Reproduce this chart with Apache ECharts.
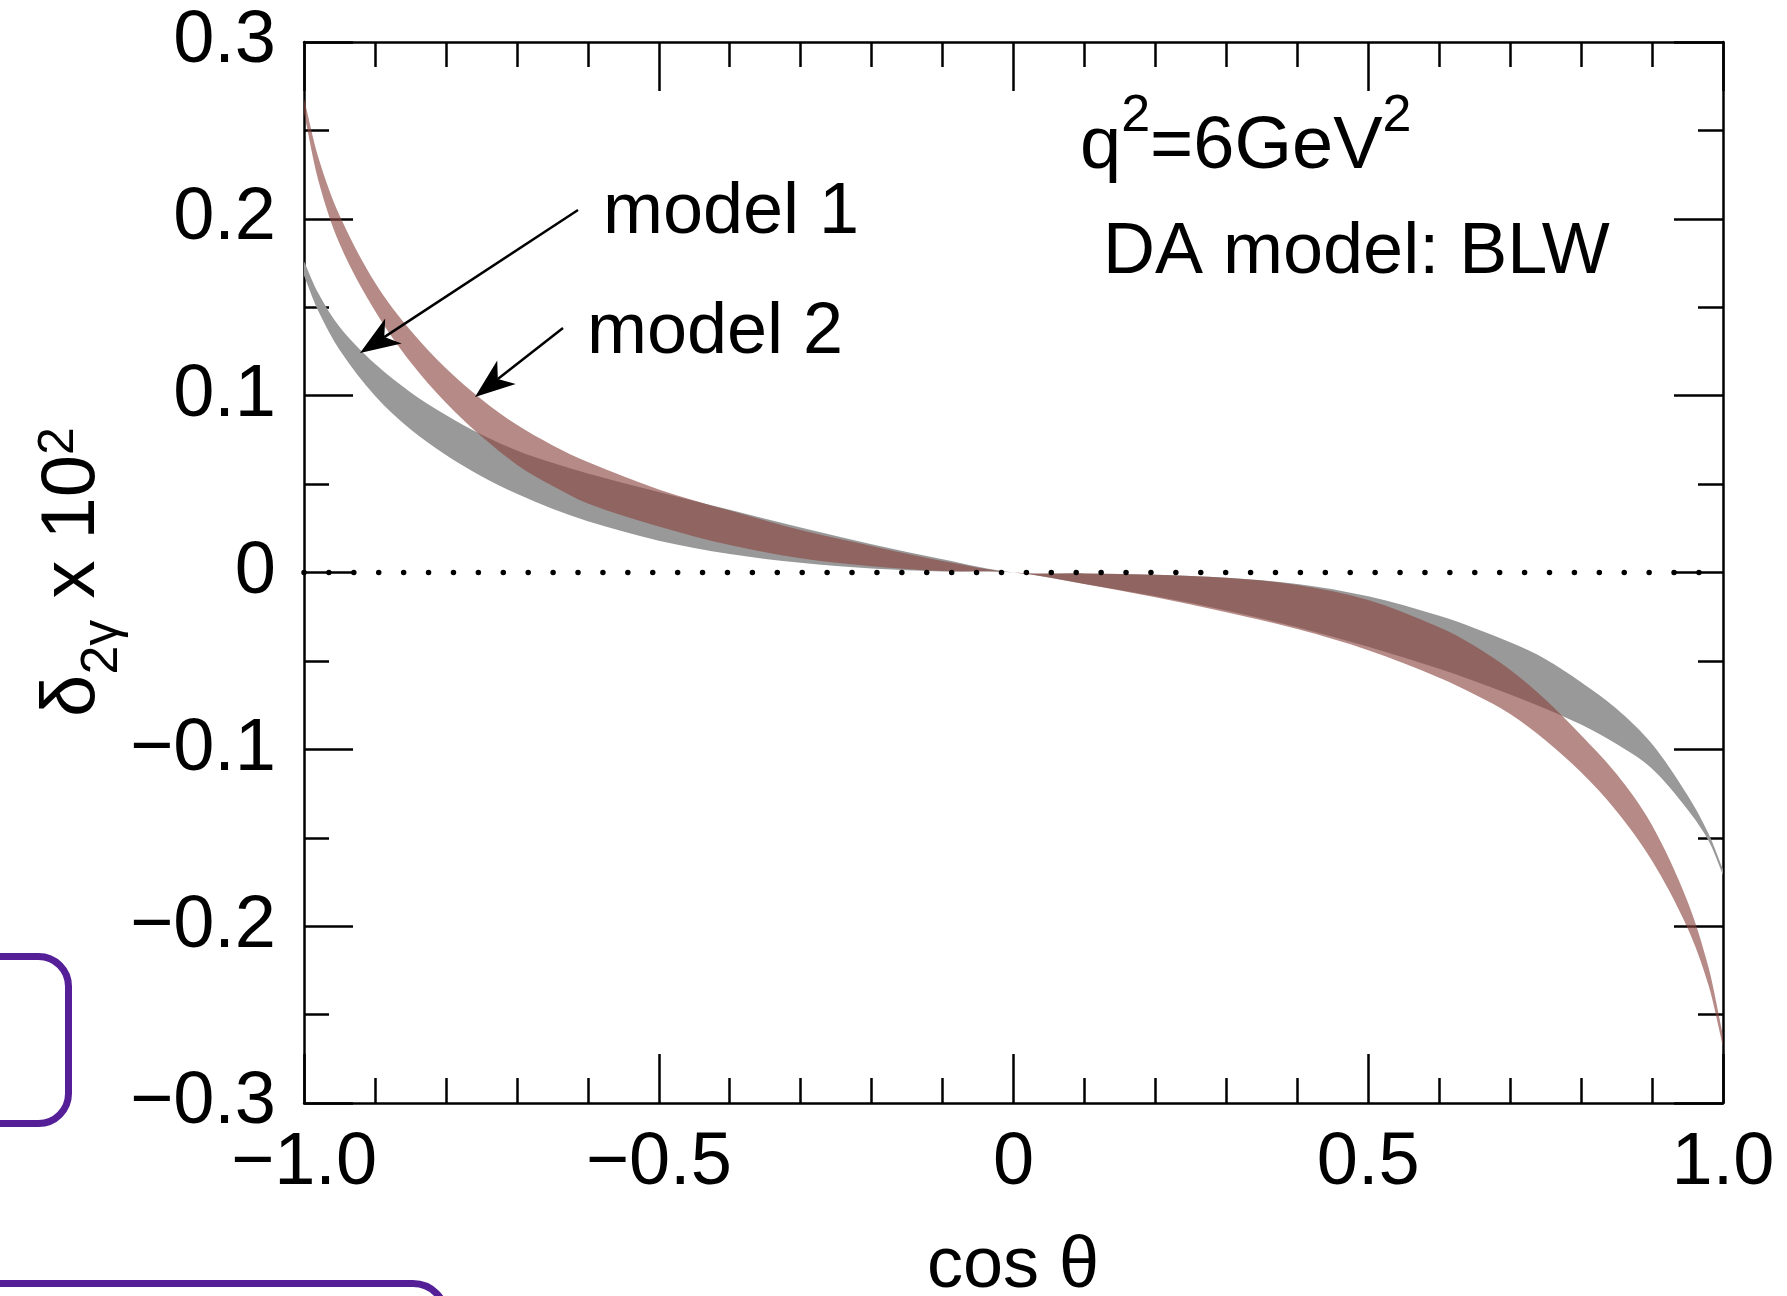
<!DOCTYPE html>
<html>
<head>
<meta charset="utf-8">
<style>
html,body{margin:0;padding:0;background:#ffffff;}
#chart{width:1787px;height:1296px;}
</style>
<script src="https://cdn.jsdelivr.net/npm/echarts@6/dist/echarts.min.js"></script>
</head>
<body>
<div id="chart"></div>
<script>
// ---------------- data ----------------
const cosTheta = [-1, -0.98, -0.95, -0.9, -0.85, -0.8, -0.75, -0.7, -0.65, -0.6, -0.5, -0.4, -0.3, -0.2, -0.1, 0,
                  0.1, 0.2, 0.3, 0.4, 0.5, 0.6, 0.65, 0.7, 0.75, 0.8, 0.85, 0.9, 0.95, 0.98, 1];

// model 1 (grey band)
const model1Upper = [0.176, 0.158, 0.139, 0.118, 0.102, 0.089, 0.078, 0.069, 0.062, 0.056, 0.0455, 0.0355, 0.0255, 0.016, 0.0075, 0,
                     -0.0005, -0.0013, -0.003, -0.0065, -0.0135, -0.0245, -0.0315, -0.0395, -0.049, -0.062, -0.077, -0.097, -0.126, -0.148, -0.168];
const model1Lower = [0.168, 0.148, 0.126, 0.100, 0.081, 0.0665, 0.0545, 0.0445, 0.036, 0.029, 0.018, 0.0105, 0.0055, 0.0023, 0.0006, 0,
                     -0.0065, -0.0135, -0.0215, -0.031, -0.042, -0.0545, -0.0615, -0.069, -0.077, -0.086, -0.097, -0.111, -0.134, -0.152, -0.171];

// model 2 (rosy band)
const model2Upper = [0.268, 0.235, 0.202, 0.164, 0.137, 0.1155, 0.098, 0.0835, 0.072, 0.0625, 0.047, 0.035, 0.024, 0.015, 0.0065, 0,
                     -0.0005, -0.0013, -0.003, -0.007, -0.0155, -0.031, -0.0415, -0.055, -0.072, -0.092, -0.114, -0.143, -0.186, -0.224, -0.262];
const model2Lower = [0.260, 0.222, 0.186, 0.148, 0.119, 0.096, 0.077, 0.061, 0.049, 0.039, 0.026, 0.0155, 0.008, 0.0035, 0.0008, 0,
                     -0.0065, -0.014, -0.0225, -0.032, -0.044, -0.0595, -0.069, -0.080, -0.095, -0.113, -0.135, -0.163, -0.201, -0.234, -0.268];

// zero reference line
const zeroLineX = [-1, 1];
const zeroLineY = [0, 0];

// tick labels
const xTickLabels = ['\u22121.0', '\u22120.5', '0', '0.5', '1.0'];
const yTickLabels = ['\u22120.3', '\u22120.2', '\u22120.1', '0', '0.1', '0.2', '0.3'];

// ---------------- styling ----------------
const FONT = "'Liberation Sans', Arial, Helvetica, sans-serif";
const GREY = '#999999';
const ROSE = 'rgba(140,69,63,0.63)';

function hermite(pts) {
  const n = pts.length;
  const m = [];
  for (let i = 0; i < n; i++) {
    const a = pts[Math.max(0, i - 1)], b = pts[Math.min(n - 1, i + 1)];
    m[i] = (b[1] - a[1]) / (b[0] - a[0]);
  }
  let s = '';
  for (let i = 0; i < n - 1; i++) {
    const p = pts[i], q = pts[i + 1], dx = (q[0] - p[0]) / 3;
    s += ' C' + (p[0] + dx) + ',' + (p[1] + m[i] * dx) + ' ' + (q[0] - dx) + ',' + (q[1] - m[i + 1] * dx) + ' ' + q[0] + ',' + q[1];
  }
  return s;
}

function bandRenderer(upper, lower, fill) {
  return function (params, api) {
    if (params.dataIndex !== 0) return null;
    const top = cosTheta.map((x, i) => api.coord([x, upper[i]]));
    const bot = cosTheta.map((x, i) => api.coord([x, lower[i]])).reverse();
    const d = 'M' + top[0][0] + ',' + top[0][1] + hermite(top) +
              ' L' + bot[0][0] + ',' + bot[0][1] + hermite(bot) + ' Z';
    return { type: 'path', shape: { pathData: d }, style: { fill: fill, stroke: null } };
  };
}

function bandData(upper, lower) {
  return cosTheta.map((x, i) => [x, lower[i], upper[i]]);
}

function axisBase(extra) {
  return Object.assign({
    type: 'value',
    axisLine: { show: true, onZero: false, lineStyle: { color: '#000', width: 2.5 } },
    axisTick: { show: true, inside: true, length: 49, lineStyle: { color: '#000', width: 2.5 } },
    splitLine: { show: false },
    minorSplitLine: { show: false }
  }, extra);
}

// text runs with sub/superscripts (positions measured, baseline based)
const mctx = document.createElement('canvas').getContext('2d');
function tw(str, size) { mctx.font = size + 'px ' + FONT; return mctx.measureText(str).width; }
function textRuns(list, x0, baseY) {
  const els = [];
  let x = x0;
  list.forEach(function (r) {
    const t = r[0], size = r[1], dy = r[2];
    els.push({ type: 'text', x: x, y: baseY + dy - 0.33 * size,
      style: { text: t, fontSize: size, fontFamily: FONT, fill: '#000', align: 'left', verticalAlign: 'middle' } });
    x += tw(t, size);
  });
  return els;
}
function runsWidth(list) { return list.reduce((s, r) => s + tw(r[0], r[1]), 0); }

const yTitleRuns = [['\u03b4', 76, 0], ['2\u03b3', 52, 22], [' x 10', 76, 0], ['2', 50, -22]];
const yTitleW = runsWidth(yTitleRuns);
const qRuns = [['q', 74, 0], ['2', 52, -38], ['=6GeV', 74, 0], ['2', 52, -38]];

function arrow(sx, sy, tx, ty) {
  const L = 40, W = 15, notch = 11;
  const dx = tx - sx, dy = ty - sy, len = Math.hypot(dx, dy);
  const ux = dx / len, uy = dy / len, nx = -uy, ny = ux;
  const bx = tx - ux * L, by = ty - uy * L;
  const kx = tx - ux * (L - notch), ky = ty - uy * (L - notch);
  return [
    { type: 'line', shape: { x1: sx, y1: sy, x2: kx, y2: ky }, style: { stroke: '#000', lineWidth: 2.5 }, z: 20 },
    { type: 'polygon', shape: { points: [[tx, ty], [bx + nx * W, by + ny * W], [kx, ky], [bx - nx * W, by - ny * W]] },
      style: { fill: '#000' }, z: 20 }
  ];
}

const chart = echarts.init(document.getElementById('chart'), null, { renderer: 'canvas' });

const option = {
  animation: false,
  backgroundColor: '#ffffff',
  grid: { left: 304, right: 64, top: 42, bottom: 193, containLabel: false, outerBoundsMode: 'none' },
  xAxis: [
    axisBase({
      min: -1, max: 1, interval: 0.5, position: 'bottom',
      minorTick: { show: true, splitNumber: 5, length: 25, lineStyle: { color: '#000', width: 2.5 } },
      axisLabel: { show: true, margin: 24, color: '#000', fontSize: 74, fontFamily: FONT,
                   showMinLabel: true, showMaxLabel: true,
                   formatter: (v, i) => xTickLabels[i] }
    }),
    axisBase({
      min: -1, max: 1, interval: 0.5, position: 'top',
      minorTick: { show: true, splitNumber: 5, length: 25, lineStyle: { color: '#000', width: 2.5 } },
      axisLabel: { show: false }
    })
  ],
  yAxis: [
    axisBase({
      min: -0.3, max: 0.3, interval: 0.1, position: 'left',
      minorTick: { show: true, splitNumber: 2, length: 25, lineStyle: { color: '#000', width: 2.5 } },
      axisLabel: { show: true, margin: 28, color: '#000', fontSize: 74, fontFamily: FONT,
                   showMinLabel: true, showMaxLabel: true,
                   formatter: (v, i) => yTickLabels[i] }
    }),
    axisBase({
      min: -0.3, max: 0.3, interval: 0.1, position: 'right',
      minorTick: { show: true, splitNumber: 2, length: 25, lineStyle: { color: '#000', width: 2.5 } },
      axisLabel: { show: false }
    })
  ],
  series: [
    {
      name: 'model 1', type: 'custom', xAxisIndex: 0, yAxisIndex: 0, clip: true, silent: true, z: 2,
      encode: { x: 0, y: [1, 2] },
      data: bandData(model1Upper, model1Lower),
      renderItem: bandRenderer(model1Upper, model1Lower, GREY)
    },
    {
      name: 'model 2', type: 'custom', xAxisIndex: 0, yAxisIndex: 0, clip: true, silent: true, z: 3,
      encode: { x: 0, y: [1, 2] },
      data: bandData(model2Upper, model2Lower),
      renderItem: bandRenderer(model2Upper, model2Lower, ROSE)
    },
    {
      name: 'zero', type: 'line', xAxisIndex: 0, yAxisIndex: 0, silent: true, z: 5,
      symbol: 'none',
      data: zeroLineX.map((x, i) => [x, zeroLineY[i]]),
      lineStyle: { color: '#000', width: 5.5, type: [0.01, 24.9], cap: 'round' }
    }
  ],
  graphic: [
    // y-axis title (rotated, reads bottom to top)
    { type: 'group', x: 98, y: 572, rotation: Math.PI / 2, z: 30,
      children: textRuns(yTitleRuns, -yTitleW / 2, 0) },
    // x-axis title
    { type: 'text', x: 1013, y: 1267, z: 30,
      style: { text: 'cos \u03b8', fontSize: 72, fontFamily: FONT, fill: '#000', align: 'center', verticalAlign: 'middle' } },
    // annotations
    { type: 'text', x: 603, y: 213, z: 30,
      style: { text: 'model 1', fontSize: 72, fontFamily: FONT, fill: '#000', align: 'left', verticalAlign: 'middle' } },
    { type: 'text', x: 587, y: 333, z: 30,
      style: { text: 'model 2', fontSize: 72, fontFamily: FONT, fill: '#000', align: 'left', verticalAlign: 'middle' } },
    { type: 'group', x: 0, y: 0, z: 30, children: textRuns(qRuns, 1080, 172) },
    { type: 'text', x: 1103, y: 253, z: 30,
      style: { text: 'DA model: BLW', fontSize: 72, fontFamily: FONT, fill: '#000', align: 'left', verticalAlign: 'middle' } },
    ...arrow(578, 210, 360, 353),
    ...arrow(563, 328, 475, 397),
    // frame remnants from the source slide
    { type: 'rect', z: 1, shape: { x: -40, y: 956.5, width: 108.5, height: 167, r: 30 },
      style: { fill: 'none', stroke: '#541f97', lineWidth: 7 } },
    { type: 'rect', z: 1, shape: { x: -40, y: 1283.5, width: 486, height: 120, r: 33 },
      style: { fill: 'none', stroke: '#541f97', lineWidth: 7 } }
  ]
};

chart.setOption(option);
</script>
</body>
</html>
